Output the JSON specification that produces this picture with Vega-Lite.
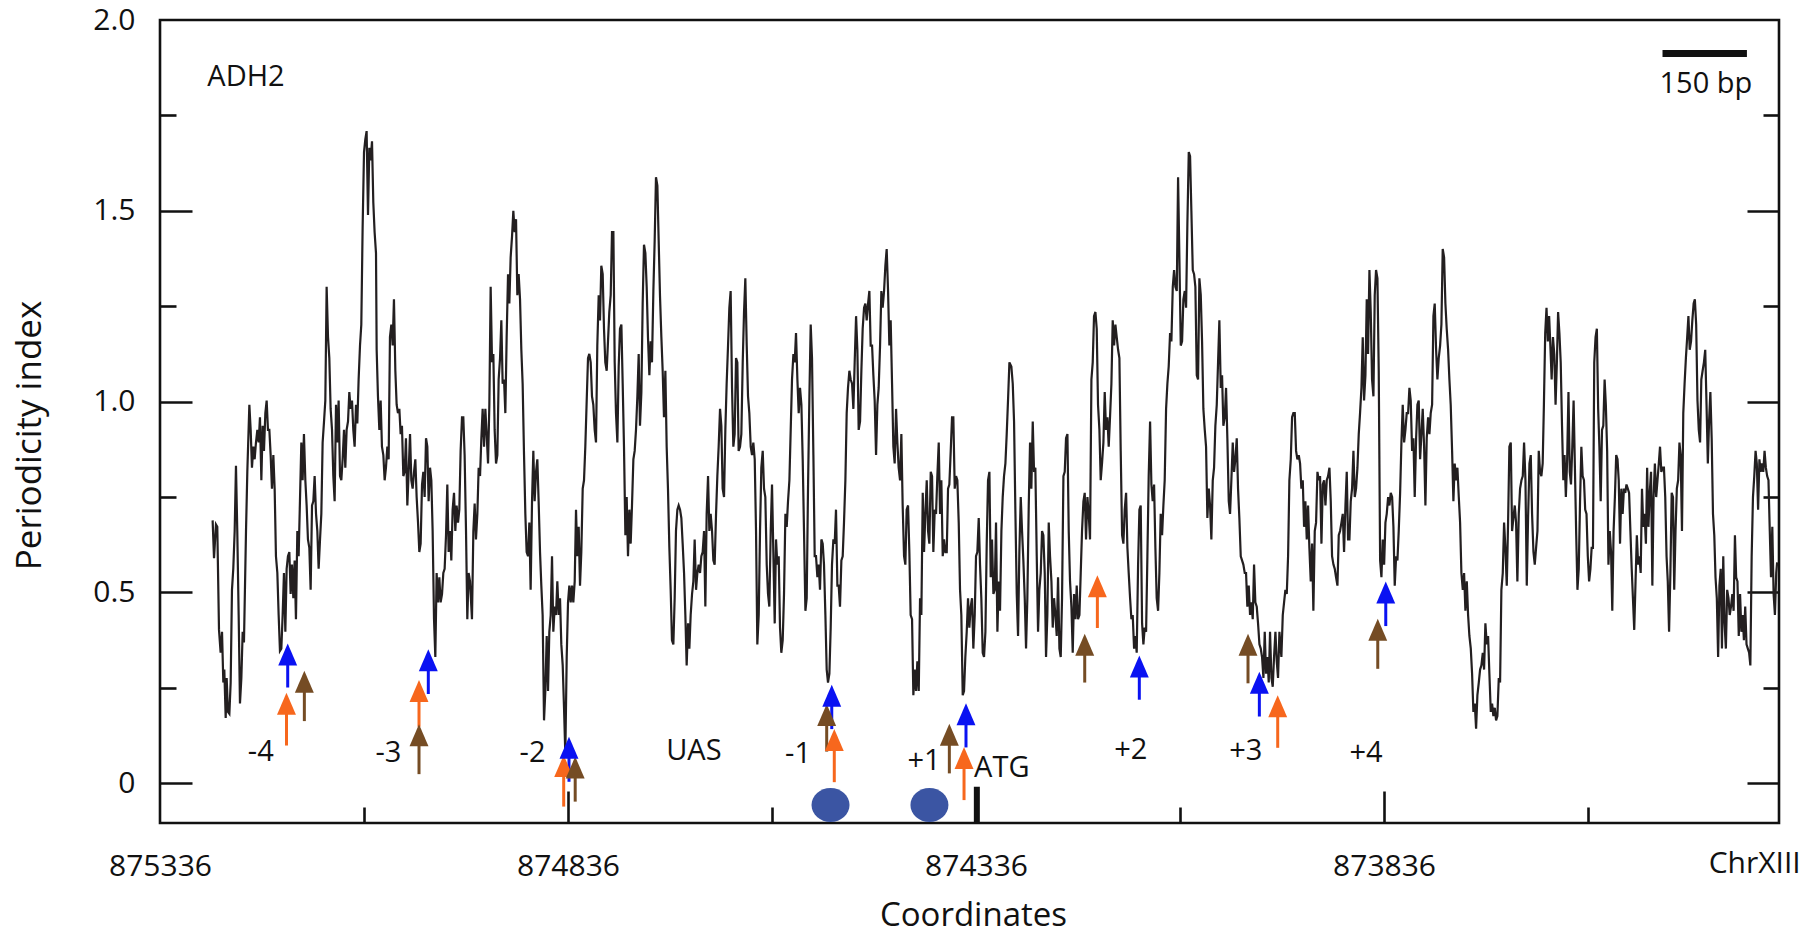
{
  "$schema": "https://vega.github.io/schema/vega-lite/v6.json",
  "width": 1619,
  "height": 803,
  "autosize": {"type": "none"},
  "padding": {"left": 160, "top": 20, "right": 33, "bottom": 111},
  "background": "white",
  "config": {
    "view": {"stroke": "#111111", "strokeWidth": 2.6},
    "font": "Open Sans",
    "axis": {
      "grid": false,
      "domain": false,
      "labelFont": "Open Sans",
      "labelFontSize": 30,
      "labelColor": "#111111",
      "tickColor": "#111111",
      "tickWidth": 2.6,
      "titleFont": "Open Sans",
      "titleFontSize": 33,
      "titleFontWeight": "normal",
      "titleColor": "#111111"
    },
    "text": {"font": "Open Sans", "fontSize": 29, "color": "#111111"}
  },
  "resolve": {"scale": {"x": "independent", "y": "shared"}, "axis": {"y": "independent"}},
  "datasets": {
    "profile": [
      {"coord":875271.5,"value":0.689},{"coord":875269.8,"value":0.590},{"coord":875267.4,"value":0.678},{"coord":875265.8,"value":0.672},{"coord":875263.7,"value":0.402},{"coord":875261.7,"value":0.342},{"coord":875260.0,"value":0.397},{"coord":875258.4,"value":0.264},{"coord":875257.2,"value":0.298},{"coord":875255.5,"value":0.171},{"coord":875254.3,"value":0.276},{"coord":875252.7,"value":0.187},{"coord":875251.0,"value":0.182},{"coord":875249.4,"value":0.264},{"coord":875247.8,"value":0.507},{"coord":875246.2,"value":0.562},{"coord":875244.5,"value":0.661},{"coord":875242.9,"value":0.832},{"coord":875241.3,"value":0.661},{"coord":875239.6,"value":0.441},{"coord":875238.0,"value":0.209},{"coord":875236.3,"value":0.276},{"coord":875234.7,"value":0.397},{"coord":875233.1,"value":0.369},{"coord":875230.6,"value":0.661},{"coord":875229.0,"value":0.816},{"coord":875226.5,"value":0.992},{"coord":875224.9,"value":0.926},{"coord":875223.3,"value":0.827},{"coord":875221.6,"value":0.882},{"coord":875220.0,"value":0.849},{"coord":875218.4,"value":0.893},{"coord":875216.7,"value":0.926},{"coord":875215.1,"value":0.893},{"coord":875213.5,"value":0.959},{"coord":875211.8,"value":0.794},{"coord":875210.2,"value":0.937},{"coord":875208.6,"value":0.871},{"coord":875206.9,"value":0.970},{"coord":875205.3,"value":1.003},{"coord":875203.7,"value":0.926},{"coord":875202.0,"value":0.926},{"coord":875200.4,"value":0.860},{"coord":875198.8,"value":0.772},{"coord":875197.1,"value":0.860},{"coord":875195.5,"value":0.772},{"coord":875193.9,"value":0.595},{"coord":875192.2,"value":0.551},{"coord":875190.6,"value":0.441},{"coord":875189.0,"value":0.347},{"coord":875187.3,"value":0.353},{"coord":875185.7,"value":0.441},{"coord":875184.1,"value":0.551},{"coord":875182.4,"value":0.397},{"coord":875180.8,"value":0.562},{"coord":875179.2,"value":0.595},{"coord":875177.5,"value":0.606},{"coord":875175.9,"value":0.496},{"coord":875174.3,"value":0.573},{"coord":875172.6,"value":0.485},{"coord":875171.0,"value":0.584},{"coord":875169.4,"value":0.430},{"coord":875167.7,"value":0.661},{"coord":875166.1,"value":0.595},{"coord":875164.5,"value":0.739},{"coord":875162.8,"value":0.893},{"coord":875161.2,"value":0.794},{"coord":875159.6,"value":0.915},{"coord":875157.9,"value":0.794},{"coord":875156.3,"value":0.728},{"coord":875154.7,"value":0.639},{"coord":875153.0,"value":0.617},{"coord":875151.4,"value":0.507},{"coord":875149.7,"value":0.728},{"coord":875148.1,"value":0.739},{"coord":875146.5,"value":0.805},{"coord":875144.8,"value":0.706},{"coord":875143.2,"value":0.661},{"coord":875141.6,"value":0.562},{"coord":875139.9,"value":0.639},{"coord":875138.3,"value":0.706},{"coord":875136.7,"value":0.893},{"coord":875135.0,"value":0.948},{"coord":875133.4,"value":1.003},{"coord":875131.8,"value":1.301},{"coord":875130.1,"value":1.169},{"coord":875128.5,"value":1.114},{"coord":875126.9,"value":0.981},{"coord":875125.2,"value":0.926},{"coord":875123.6,"value":0.805},{"coord":875122.0,"value":0.739},{"coord":875120.3,"value":0.992},{"coord":875118.7,"value":0.893},{"coord":875117.1,"value":1.003},{"coord":875115.4,"value":0.805},{"coord":875113.8,"value":0.794},{"coord":875112.2,"value":0.849},{"coord":875110.5,"value":0.926},{"coord":875108.9,"value":0.827},{"coord":875107.3,"value":0.926},{"coord":875105.6,"value":0.948},{"coord":875104.0,"value":1.025},{"coord":875102.4,"value":0.981},{"coord":875100.7,"value":1.003},{"coord":875099.1,"value":0.926},{"coord":875097.5,"value":0.882},{"coord":875095.8,"value":0.992},{"coord":875094.2,"value":0.943},{"coord":875092.6,"value":1.058},{"coord":875090.9,"value":1.147},{"coord":875089.3,"value":1.202},{"coord":875087.7,"value":1.455},{"coord":875086.0,"value":1.654},{"coord":875084.4,"value":1.687},{"coord":875082.8,"value":1.709},{"coord":875081.1,"value":1.489},{"coord":875079.5,"value":1.665},{"coord":875077.9,"value":1.632},{"coord":875076.2,"value":1.682},{"coord":875074.6,"value":1.522},{"coord":875073.0,"value":1.444},{"coord":875071.3,"value":1.389},{"coord":875070.5,"value":1.136},{"coord":875068.9,"value":1.014},{"coord":875067.2,"value":0.926},{"coord":875065.6,"value":1.003},{"coord":875064.0,"value":0.882},{"coord":875062.3,"value":0.860},{"coord":875060.7,"value":0.794},{"coord":875059.1,"value":0.827},{"coord":875057.4,"value":0.882},{"coord":875055.8,"value":0.849},{"coord":875054.2,"value":1.169},{"coord":875052.5,"value":1.202},{"coord":875050.9,"value":1.147},{"coord":875049.3,"value":1.268},{"coord":875047.6,"value":1.081},{"coord":875046.0,"value":0.992},{"coord":875044.4,"value":0.970},{"coord":875042.7,"value":0.981},{"coord":875041.1,"value":0.915},{"coord":875039.5,"value":0.937},{"coord":875037.8,"value":0.805},{"coord":875036.2,"value":0.816},{"coord":875034.6,"value":0.904},{"coord":875032.9,"value":0.728},{"coord":875031.3,"value":0.816},{"coord":875029.6,"value":0.915},{"coord":875028.0,"value":0.794},{"coord":875026.4,"value":0.772},{"coord":875024.7,"value":0.816},{"coord":875023.1,"value":0.849},{"coord":875021.5,"value":0.750},{"coord":875019.8,"value":0.683},{"coord":875018.2,"value":0.606},{"coord":875016.6,"value":0.628},{"coord":875014.9,"value":0.783},{"coord":875013.3,"value":0.816},{"coord":875011.7,"value":0.750},{"coord":875010.0,"value":0.904},{"coord":875008.4,"value":0.882},{"coord":875006.8,"value":0.739},{"coord":875005.1,"value":0.827},{"coord":875003.5,"value":0.794},{"coord":875001.9,"value":0.661},{"coord":875000.2,"value":0.430},{"coord":874998.6,"value":0.331},{"coord":874997.0,"value":0.551},{"coord":874995.3,"value":0.474},{"coord":874993.7,"value":0.540},{"coord":874992.1,"value":0.474},{"coord":874990.4,"value":0.496},{"coord":874988.8,"value":0.551},{"coord":874987.2,"value":0.562},{"coord":874985.5,"value":0.650},{"coord":874983.9,"value":0.783},{"coord":874982.3,"value":0.606},{"coord":874980.6,"value":0.661},{"coord":874979.0,"value":0.584},{"coord":874977.4,"value":0.717},{"coord":874975.7,"value":0.761},{"coord":874974.1,"value":0.661},{"coord":874972.5,"value":0.728},{"coord":874970.8,"value":0.683},{"coord":874969.2,"value":0.717},{"coord":874967.6,"value":0.871},{"coord":874965.9,"value":0.959},{"coord":874964.3,"value":0.959},{"coord":874962.7,"value":0.860},{"coord":874961.0,"value":0.661},{"coord":874959.4,"value":0.430},{"coord":874957.8,"value":0.551},{"coord":874956.1,"value":0.529},
      {"coord":874953.7,"value":0.430},{"coord":874952.0,"value":0.661},{"coord":874950.4,"value":0.733},{"coord":874948.8,"value":0.639},{"coord":874947.1,"value":0.706},{"coord":874945.5,"value":0.827},{"coord":874943.8,"value":0.805},{"coord":874942.2,"value":0.904},{"coord":874940.6,"value":0.981},{"coord":874938.9,"value":0.882},{"coord":874937.3,"value":0.981},{"coord":874935.7,"value":0.915},{"coord":874934.0,"value":0.838},{"coord":874932.4,"value":0.992},{"coord":874930.8,"value":1.301},{"coord":874929.1,"value":1.103},{"coord":874927.5,"value":1.125},{"coord":874925.9,"value":0.926},{"coord":874924.2,"value":0.838},{"coord":874922.6,"value":0.860},{"coord":874921.0,"value":1.058},{"coord":874919.3,"value":1.114},{"coord":874917.7,"value":1.213},{"coord":874916.1,"value":1.047},{"coord":874914.4,"value":1.058},{"coord":874912.8,"value":0.970},{"coord":874911.2,"value":1.169},{"coord":874909.5,"value":1.334},{"coord":874907.9,"value":1.257},{"coord":874906.3,"value":1.378},{"coord":874904.6,"value":1.433},{"coord":874903.0,"value":1.500},{"coord":874901.4,"value":1.444},{"coord":874899.7,"value":1.478},{"coord":874898.1,"value":1.279},{"coord":874896.5,"value":1.334},{"coord":874894.8,"value":1.268},{"coord":874893.2,"value":1.136},{"coord":874891.6,"value":1.047},{"coord":874889.9,"value":0.860},{"coord":874888.3,"value":0.706},{"coord":874886.7,"value":0.606},{"coord":874885.0,"value":0.595},{"coord":874883.4,"value":0.683},{"coord":874881.8,"value":0.507},{"coord":874880.1,"value":0.739},{"coord":874878.5,"value":0.871},{"coord":874876.9,"value":0.739},{"coord":874875.2,"value":0.816},{"coord":874873.6,"value":0.849},{"coord":874872.0,"value":0.739},{"coord":874870.3,"value":0.606},{"coord":874868.7,"value":0.518},{"coord":874867.1,"value":0.441},{"coord":874865.4,"value":0.165},{"coord":874863.8,"value":0.242},{"coord":874862.1,"value":0.386},{"coord":874860.5,"value":0.242},{"coord":874858.9,"value":0.397},{"coord":874857.2,"value":0.441},{"coord":874855.6,"value":0.595},{"coord":874854.0,"value":0.397},{"coord":874852.3,"value":0.463},{"coord":874850.7,"value":0.441},{"coord":874849.1,"value":0.529},{"coord":874847.4,"value":0.441},{"coord":874845.8,"value":0.485},{"coord":874844.2,"value":0.364},{"coord":874842.5,"value":0.309},{"coord":874840.9,"value":0.198},{"coord":874839.3,"value":0.077},{"coord":874837.6,"value":0.331},{"coord":874836.0,"value":0.474},{"coord":874834.4,"value":0.518},{"coord":874832.7,"value":0.474},{"coord":874831.1,"value":0.518},{"coord":874829.5,"value":0.474},{"coord":874827.8,"value":0.529},{"coord":874826.2,"value":0.717},{"coord":874824.6,"value":0.595},{"coord":874822.9,"value":0.672},{"coord":874821.3,"value":0.518},{"coord":874819.7,"value":0.606},{"coord":874818.0,"value":0.772},{"coord":874816.4,"value":0.794},{"coord":874814.8,"value":0.882},{"coord":874813.1,"value":1.003},{"coord":874811.5,"value":1.114},{"coord":874809.9,"value":1.125},{"coord":874808.2,"value":1.103},{"coord":874806.6,"value":1.014},{"coord":874805.0,"value":0.992},{"coord":874803.3,"value":0.926},{"coord":874801.7,"value":0.893},{"coord":874800.1,"value":1.147},{"coord":874798.4,"value":1.279},{"coord":874796.8,"value":1.213},{"coord":874795.2,"value":1.356},{"coord":874793.5,"value":1.334},{"coord":874791.9,"value":1.191},{"coord":874790.3,"value":1.103},{"coord":874788.6,"value":1.081},{"coord":874787.0,"value":1.158},{"coord":874785.4,"value":1.235},{"coord":874783.7,"value":1.279},{"coord":874782.1,"value":1.444},{"coord":874780.4,"value":1.444},{"coord":874778.8,"value":1.103},{"coord":874777.2,"value":0.970},{"coord":874775.5,"value":0.893},{"coord":874773.9,"value":1.092},{"coord":874772.3,"value":1.191},{"coord":874770.6,"value":1.202},{"coord":874769.0,"value":1.047},{"coord":874767.4,"value":0.882},{"coord":874765.7,"value":0.650},{"coord":874764.1,"value":0.750},{"coord":874762.5,"value":0.595},{"coord":874760.8,"value":0.717},{"coord":874759.2,"value":0.628},{"coord":874757.6,"value":0.728},{"coord":874755.9,"value":0.849},{"coord":874754.3,"value":0.871},{"coord":874752.7,"value":0.926},{"coord":874751.0,"value":1.014},{"coord":874749.4,"value":1.125},{"coord":874747.8,"value":0.937},{"coord":874746.1,"value":1.025},{"coord":874744.5,"value":1.257},{"coord":874742.9,"value":1.411},{"coord":874741.2,"value":1.389},{"coord":874739.6,"value":1.301},{"coord":874738.0,"value":1.169},{"coord":874736.3,"value":1.069},{"coord":874734.7,"value":1.158},{"coord":874733.1,"value":1.103},{"coord":874731.4,"value":1.290},{"coord":874729.8,"value":1.422},{"coord":874728.2,"value":1.588},{"coord":874726.5,"value":1.566},{"coord":874724.9,"value":1.422},{"coord":874723.3,"value":1.279},{"coord":874721.6,"value":1.169},{"coord":874720.0,"value":1.081},{"coord":874718.4,"value":0.959},{"coord":874716.7,"value":1.081},{"coord":874715.1,"value":0.882},{"coord":874713.5,"value":0.772},{"coord":874711.8,"value":0.617},{"coord":874710.2,"value":0.507},{"coord":874708.6,"value":0.375},{"coord":874706.9,"value":0.364},{"coord":874705.3,"value":0.485},{"coord":874703.7,"value":0.661},{"coord":874702.0,"value":0.717},{"coord":874700.4,"value":0.728},{"coord":874698.7,"value":0.717},{"coord":874697.1,"value":0.695},{"coord":874695.5,"value":0.628},{"coord":874693.8,"value":0.551},{"coord":874692.2,"value":0.441},{"coord":874690.6,"value":0.309},{"coord":874688.9,"value":0.419},{"coord":874687.3,"value":0.353},{"coord":874685.7,"value":0.441},{"coord":874684.0,"value":0.496},{"coord":874682.4,"value":0.529},{"coord":874680.8,"value":0.639},{"coord":874679.1,"value":0.507},{"coord":874677.5,"value":0.551},{"coord":874675.9,"value":0.573},{"coord":874674.2,"value":0.551},{"coord":874672.6,"value":0.595},{"coord":874671.0,"value":0.606},{"coord":874669.3,"value":0.661},{"coord":874667.7,"value":0.463},{"coord":874666.1,"value":0.706},{"coord":874664.4,"value":0.805},{"coord":874662.8,"value":0.661},{"coord":874661.2,"value":0.706},{"coord":874659.5,"value":0.661},{"coord":874657.9,"value":0.584},{"coord":874656.3,"value":0.573},{"coord":874654.6,"value":0.706},{"coord":874653.0,"value":0.805},{"coord":874651.4,"value":0.882},{"coord":874649.7,"value":0.981},{"coord":874648.1,"value":0.937},{"coord":874646.5,"value":0.772},{"coord":874644.8,"value":0.750},{"coord":874643.2,"value":0.926},{"coord":874641.6,"value":1.047},{"coord":874639.9,"value":1.147},{"coord":874638.3,"value":1.246},{"coord":874636.7,"value":1.290},{"coord":874635.0,"value":1.036},{"coord":874633.4,"value":0.882},{"coord":874631.8,"value":0.915},{"coord":874630.1,"value":1.114},{"coord":874628.5,"value":1.103},{"coord":874626.9,"value":0.871},
      {"coord":874625.2,"value":0.882},{"coord":874623.6,"value":0.915},{"coord":874621.9,"value":1.103},{"coord":874620.3,"value":1.235},{"coord":874618.7,"value":1.323},{"coord":874617.0,"value":1.147},{"coord":874615.4,"value":1.014},{"coord":874613.8,"value":0.970},{"coord":874612.1,"value":0.882},{"coord":874610.5,"value":0.860},{"coord":874608.9,"value":0.893},{"coord":874607.2,"value":0.849},{"coord":874605.6,"value":0.661},{"coord":874604.0,"value":0.364},{"coord":874602.3,"value":0.441},{"coord":874600.7,"value":0.661},{"coord":874599.1,"value":0.827},{"coord":874597.4,"value":0.871},{"coord":874595.8,"value":0.772},{"coord":874594.2,"value":0.750},{"coord":874592.5,"value":0.573},{"coord":874590.9,"value":0.496},{"coord":874589.3,"value":0.463},{"coord":874587.6,"value":0.661},{"coord":874586.0,"value":0.783},{"coord":874584.4,"value":0.606},{"coord":874582.7,"value":0.419},{"coord":874581.1,"value":0.639},{"coord":874579.5,"value":0.573},{"coord":874577.8,"value":0.595},{"coord":874576.2,"value":0.408},{"coord":874574.6,"value":0.342},{"coord":874572.9,"value":0.375},{"coord":874571.3,"value":0.496},{"coord":874569.6,"value":0.706},{"coord":874568.0,"value":0.672},{"coord":874566.4,"value":0.739},{"coord":874564.7,"value":0.794},{"coord":874563.1,"value":0.926},{"coord":874561.5,"value":1.058},{"coord":874559.8,"value":1.125},{"coord":874558.2,"value":1.103},{"coord":874556.6,"value":1.180},{"coord":874554.9,"value":1.058},{"coord":874553.3,"value":0.970},{"coord":874551.7,"value":1.036},{"coord":874550.0,"value":0.992},{"coord":874548.4,"value":0.849},{"coord":874546.8,"value":0.661},{"coord":874545.1,"value":0.452},{"coord":874543.5,"value":0.485},{"coord":874541.9,"value":0.772},{"coord":874540.2,"value":1.014},{"coord":874538.6,"value":1.202},{"coord":874537.0,"value":1.114},{"coord":874535.3,"value":0.860},{"coord":874533.7,"value":0.595},{"coord":874532.1,"value":0.595},{"coord":874530.4,"value":0.540},{"coord":874528.8,"value":0.573},{"coord":874527.2,"value":0.507},{"coord":874525.5,"value":0.639},{"coord":874523.9,"value":0.628},{"coord":874522.3,"value":0.573},{"coord":874520.6,"value":0.441},{"coord":874519.0,"value":0.298},{"coord":874517.4,"value":0.264},{"coord":874515.7,"value":0.287},{"coord":874514.1,"value":0.408},{"coord":874512.5,"value":0.573},{"coord":874510.8,"value":0.639},{"coord":874509.2,"value":0.628},{"coord":874507.6,"value":0.717},{"coord":874505.9,"value":0.518},{"coord":874504.3,"value":0.518},{"coord":874502.7,"value":0.463},{"coord":874501.0,"value":0.584},{"coord":874499.4,"value":0.595},{"coord":874497.8,"value":0.683},{"coord":874496.1,"value":0.794},{"coord":874494.5,"value":0.970},{"coord":874492.9,"value":1.036},{"coord":874491.2,"value":1.081},{"coord":874489.6,"value":1.058},{"coord":874487.9,"value":1.047},{"coord":874486.3,"value":0.981},{"coord":874484.7,"value":1.103},{"coord":874483.0,"value":1.224},{"coord":874481.4,"value":1.136},{"coord":874479.8,"value":0.926},{"coord":874478.1,"value":0.948},{"coord":874476.5,"value":1.081},{"coord":874474.9,"value":1.191},{"coord":874473.2,"value":1.246},{"coord":874471.6,"value":1.257},{"coord":874470.0,"value":1.213},{"coord":874468.3,"value":1.257},{"coord":874466.7,"value":1.290},{"coord":874465.1,"value":1.147},{"coord":874463.4,"value":1.147},{"coord":874461.8,"value":1.069},{"coord":874460.2,"value":1.003},{"coord":874458.5,"value":0.860},{"coord":874456.9,"value":0.992},{"coord":874455.3,"value":1.036},{"coord":874453.6,"value":1.147},{"coord":874452.0,"value":1.290},{"coord":874450.4,"value":1.246},{"coord":874448.7,"value":1.290},{"coord":874447.1,"value":1.356},{"coord":874445.5,"value":1.400},{"coord":874443.8,"value":1.290},{"coord":874442.2,"value":1.147},{"coord":874440.6,"value":1.213},{"coord":874438.9,"value":1.047},{"coord":874437.3,"value":0.882},{"coord":874435.7,"value":0.838},{"coord":874434.0,"value":0.981},{"coord":874432.4,"value":0.893},{"coord":874430.8,"value":0.827},{"coord":874429.1,"value":0.794},{"coord":874427.5,"value":0.915},{"coord":874425.9,"value":0.728},{"coord":874424.2,"value":0.595},{"coord":874422.6,"value":0.573},{"coord":874421.0,"value":0.717},{"coord":874419.3,"value":0.728},{"coord":874417.7,"value":0.606},{"coord":874416.1,"value":0.441},{"coord":874414.4,"value":0.430},{"coord":874412.8,"value":0.231},{"coord":874411.2,"value":0.298},{"coord":874409.5,"value":0.242},{"coord":874407.9,"value":0.320},{"coord":874406.2,"value":0.242},{"coord":874404.6,"value":0.485},{"coord":874403.0,"value":0.441},{"coord":874401.3,"value":0.761},{"coord":874399.7,"value":0.606},{"coord":874398.1,"value":0.706},{"coord":874396.4,"value":0.794},{"coord":874394.8,"value":0.661},{"coord":874393.2,"value":0.628},{"coord":874391.5,"value":0.816},{"coord":874389.9,"value":0.805},{"coord":874388.3,"value":0.606},{"coord":874386.6,"value":0.717},{"coord":874385.0,"value":0.706},{"coord":874383.4,"value":0.805},{"coord":874381.7,"value":0.893},{"coord":874380.1,"value":0.706},{"coord":874378.5,"value":0.794},{"coord":874376.8,"value":0.595},{"coord":874375.2,"value":0.639},{"coord":874373.6,"value":0.606},{"coord":874371.9,"value":0.606},{"coord":874370.3,"value":0.772},{"coord":874368.7,"value":0.783},{"coord":874367.0,"value":0.871},{"coord":874365.4,"value":0.959},{"coord":874363.8,"value":0.959},{"coord":874362.1,"value":0.772},{"coord":874360.5,"value":0.805},{"coord":874358.9,"value":0.794},{"coord":874357.2,"value":0.683},{"coord":874355.6,"value":0.507},{"coord":874354.0,"value":0.441},{"coord":874352.3,"value":0.231},{"coord":874350.7,"value":0.242},{"coord":874349.1,"value":0.331},{"coord":874347.4,"value":0.397},{"coord":874345.8,"value":0.485},{"coord":874344.2,"value":0.408},{"coord":874342.5,"value":0.463},{"coord":874340.9,"value":0.485},{"coord":874339.3,"value":0.353},{"coord":874337.6,"value":0.441},{"coord":874336.0,"value":0.595},{"coord":874334.4,"value":0.606},{"coord":874332.7,"value":0.695},{"coord":874331.1,"value":0.573},{"coord":874329.5,"value":0.485},{"coord":874327.8,"value":0.342},{"coord":874326.2,"value":0.331},{"coord":874324.5,"value":0.397},{"coord":874322.9,"value":0.628},{"coord":874321.3,"value":0.794},{"coord":874319.6,"value":0.816},{"coord":874318.0,"value":0.540},{"coord":874316.4,"value":0.639},{"coord":874314.7,"value":0.496},{"coord":874313.1,"value":0.507},{"coord":874311.5,"value":0.683},{"coord":874309.8,"value":0.397},{"coord":874308.2,"value":0.529},{"coord":874306.6,"value":0.452},{"coord":874304.9,"value":0.661},{"coord":874303.3,"value":0.750},{"coord":874301.7,"value":0.805},{"coord":874300.0,"value":0.838},{"coord":874298.4,"value":0.915},{"coord":874296.8,"value":1.003},{"coord":874295.1,"value":1.103},
      {"coord":874292.7,"value":1.092},{"coord":874291.0,"value":1.047},{"coord":874289.4,"value":0.948},{"coord":874287.8,"value":0.717},{"coord":874286.1,"value":0.496},{"coord":874284.5,"value":0.386},{"coord":874282.9,"value":0.606},{"coord":874281.2,"value":0.750},{"coord":874279.6,"value":0.661},{"coord":874278.0,"value":0.584},{"coord":874276.3,"value":0.485},{"coord":874274.7,"value":0.353},{"coord":874273.1,"value":0.485},{"coord":874271.4,"value":0.728},{"coord":874269.8,"value":0.893},{"coord":874268.2,"value":0.772},{"coord":874266.5,"value":0.948},{"coord":874264.9,"value":0.816},{"coord":874263.3,"value":0.827},{"coord":874261.6,"value":0.595},{"coord":874260.0,"value":0.397},{"coord":874258.4,"value":0.507},{"coord":874256.7,"value":0.551},{"coord":874255.1,"value":0.661},{"coord":874253.5,"value":0.650},{"coord":874251.8,"value":0.551},{"coord":874250.2,"value":0.331},{"coord":874248.6,"value":0.441},{"coord":874246.9,"value":0.683},{"coord":874245.3,"value":0.595},{"coord":874243.6,"value":0.529},{"coord":874242.0,"value":0.408},{"coord":874240.4,"value":0.485},{"coord":874238.7,"value":0.441},{"coord":874237.1,"value":0.386},{"coord":874235.5,"value":0.540},{"coord":874233.8,"value":0.353},{"coord":874232.2,"value":0.331},{"coord":874230.6,"value":0.485},{"coord":874228.9,"value":0.805},{"coord":874227.3,"value":0.816},{"coord":874225.7,"value":0.904},{"coord":874224.0,"value":0.915},{"coord":874222.4,"value":0.661},{"coord":874220.8,"value":0.529},{"coord":874219.1,"value":0.463},{"coord":874217.5,"value":0.342},{"coord":874215.9,"value":0.496},{"coord":874214.2,"value":0.430},{"coord":874212.6,"value":0.518},{"coord":874211.0,"value":0.430},{"coord":874209.3,"value":0.441},{"coord":874207.7,"value":0.551},{"coord":874206.1,"value":0.661},{"coord":874204.4,"value":0.739},{"coord":874202.8,"value":0.761},{"coord":874201.2,"value":0.639},{"coord":874199.5,"value":0.750},{"coord":874197.9,"value":0.706},{"coord":874196.3,"value":0.639},{"coord":874194.6,"value":1.058},{"coord":874193.0,"value":1.103},{"coord":874191.4,"value":1.224},{"coord":874189.7,"value":1.235},{"coord":874188.1,"value":1.191},{"coord":874186.5,"value":0.992},{"coord":874184.8,"value":0.926},{"coord":874183.2,"value":0.794},{"coord":874181.6,"value":0.838},{"coord":874179.9,"value":0.893},{"coord":874178.3,"value":1.025},{"coord":874176.7,"value":0.926},{"coord":874175.0,"value":0.959},{"coord":874173.4,"value":0.882},{"coord":874171.8,"value":0.959},{"coord":874170.1,"value":1.047},{"coord":874168.5,"value":1.213},{"coord":874166.8,"value":1.147},{"coord":874165.2,"value":1.202},{"coord":874163.6,"value":1.169},{"coord":874161.9,"value":1.136},{"coord":874160.3,"value":1.114},{"coord":874158.7,"value":0.871},{"coord":874157.0,"value":0.650},{"coord":874155.4,"value":0.628},{"coord":874153.8,"value":0.717},{"coord":874152.1,"value":0.761},{"coord":874150.5,"value":0.617},{"coord":874148.9,"value":0.551},{"coord":874147.2,"value":0.485},{"coord":874145.6,"value":0.430},{"coord":874144.0,"value":0.441},{"coord":874142.3,"value":0.353},{"coord":874140.7,"value":0.386},{"coord":874139.1,"value":0.342},{"coord":874137.4,"value":0.573},{"coord":874135.8,"value":0.717},{"coord":874134.2,"value":0.728},{"coord":874132.5,"value":0.419},{"coord":874130.9,"value":0.364},{"coord":874129.3,"value":0.408},{"coord":874127.6,"value":0.397},{"coord":874126.0,"value":0.595},{"coord":874124.4,"value":0.805},{"coord":874122.7,"value":0.948},{"coord":874121.1,"value":0.783},{"coord":874119.5,"value":0.739},{"coord":874117.8,"value":0.783},{"coord":874116.2,"value":0.617},{"coord":874114.6,"value":0.485},{"coord":874112.9,"value":0.452},{"coord":874111.3,"value":0.551},{"coord":874109.7,"value":0.706},{"coord":874108.0,"value":0.650},{"coord":874106.4,"value":0.728},{"coord":874104.8,"value":0.794},{"coord":874103.1,"value":0.981},{"coord":874101.5,"value":1.047},{"coord":874099.9,"value":1.092},{"coord":874098.2,"value":1.180},{"coord":874096.6,"value":1.158},{"coord":874094.9,"value":1.301},{"coord":874093.3,"value":1.345},{"coord":874091.7,"value":1.301},{"coord":874090.0,"value":1.290},{"coord":874088.4,"value":1.588},{"coord":874086.8,"value":1.378},{"coord":874085.1,"value":1.147},{"coord":874083.5,"value":1.158},{"coord":874081.9,"value":1.268},{"coord":874080.2,"value":1.290},{"coord":874078.6,"value":1.246},{"coord":874077.0,"value":1.466},{"coord":874075.3,"value":1.654},{"coord":874073.7,"value":1.643},{"coord":874072.1,"value":1.500},{"coord":874070.4,"value":1.345},{"coord":874068.8,"value":1.334},{"coord":874067.2,"value":1.301},{"coord":874065.5,"value":1.069},{"coord":874063.9,"value":1.058},{"coord":874062.3,"value":1.323},{"coord":874060.6,"value":1.279},{"coord":874059.0,"value":1.158},{"coord":874057.4,"value":0.981},{"coord":874055.7,"value":0.926},{"coord":874054.1,"value":0.882},{"coord":874052.5,"value":0.695},{"coord":874050.8,"value":0.772},{"coord":874049.2,"value":0.728},{"coord":874047.6,"value":0.639},{"coord":874045.9,"value":0.794},{"coord":874044.3,"value":0.827},{"coord":874042.7,"value":0.937},{"coord":874041.0,"value":0.992},{"coord":874039.4,"value":1.103},{"coord":874037.8,"value":1.213},{"coord":874036.1,"value":1.036},{"coord":874034.5,"value":1.069},{"coord":874032.9,"value":0.937},{"coord":874031.2,"value":0.959},{"coord":874029.6,"value":1.036},{"coord":874028.0,"value":0.904},{"coord":874026.3,"value":0.739},{"coord":874024.7,"value":0.706},{"coord":874023.1,"value":0.794},{"coord":874021.4,"value":0.893},{"coord":874019.8,"value":0.816},{"coord":874018.2,"value":0.849},{"coord":874016.5,"value":0.904},{"coord":874014.9,"value":0.772},{"coord":874013.3,"value":0.695},{"coord":874011.6,"value":0.595},{"coord":874010.0,"value":0.584},{"coord":874008.4,"value":0.573},{"coord":874006.7,"value":0.551},{"coord":874005.1,"value":0.551},{"coord":874003.5,"value":0.463},{"coord":874001.8,"value":0.518},{"coord":874000.2,"value":0.441},{"coord":873998.6,"value":0.474},{"coord":873996.9,"value":0.430},{"coord":873995.3,"value":0.573},{"coord":873993.7,"value":0.474},{"coord":873992.0,"value":0.463},{"coord":873990.4,"value":0.419},{"coord":873988.7,"value":0.364},{"coord":873987.1,"value":0.353},{"coord":873985.5,"value":0.331},{"coord":873983.8,"value":0.276},{"coord":873982.2,"value":0.397},{"coord":873980.6,"value":0.287},{"coord":873978.9,"value":0.331},{"coord":873977.3,"value":0.264},{"coord":873975.7,"value":0.397},{"coord":873974.0,"value":0.276},{"coord":873972.4,"value":0.253},{"coord":873970.8,"value":0.331},{"coord":873969.1,"value":0.397},{"coord":873967.5,"value":0.320},{"coord":873965.9,"value":0.276},{"coord":873964.2,"value":0.397},
      {"coord":873961.8,"value":0.331},{"coord":873960.1,"value":0.441},{"coord":873958.5,"value":0.474},{"coord":873956.9,"value":0.507},{"coord":873955.2,"value":0.496},{"coord":873953.6,"value":0.595},{"coord":873952.0,"value":0.794},{"coord":873950.3,"value":0.849},{"coord":873948.7,"value":0.959},{"coord":873947.1,"value":0.970},{"coord":873945.4,"value":0.970},{"coord":873943.8,"value":0.871},{"coord":873942.2,"value":0.849},{"coord":873940.5,"value":0.860},{"coord":873938.9,"value":0.838},{"coord":873937.3,"value":0.772},{"coord":873935.6,"value":0.794},{"coord":873934.0,"value":0.672},{"coord":873932.4,"value":0.739},{"coord":873930.7,"value":0.639},{"coord":873929.1,"value":0.728},{"coord":873927.5,"value":0.617},{"coord":873925.8,"value":0.529},{"coord":873924.2,"value":0.628},{"coord":873922.6,"value":0.452},{"coord":873920.9,"value":0.661},{"coord":873919.3,"value":0.683},{"coord":873917.6,"value":0.816},{"coord":873916.0,"value":0.794},{"coord":873914.4,"value":0.805},{"coord":873912.7,"value":0.628},{"coord":873911.1,"value":0.783},{"coord":873909.5,"value":0.794},{"coord":873907.8,"value":0.728},{"coord":873906.2,"value":0.794},{"coord":873904.6,"value":0.805},{"coord":873902.9,"value":0.827},{"coord":873901.3,"value":0.739},{"coord":873899.7,"value":0.595},{"coord":873898.0,"value":0.573},{"coord":873896.4,"value":0.562},{"coord":873894.8,"value":0.540},{"coord":873893.1,"value":0.518},{"coord":873891.5,"value":0.650},{"coord":873889.9,"value":0.661},{"coord":873888.2,"value":0.683},{"coord":873886.6,"value":0.706},{"coord":873885.0,"value":0.606},{"coord":873883.3,"value":0.728},{"coord":873881.7,"value":0.816},{"coord":873880.1,"value":0.639},{"coord":873878.4,"value":0.639},{"coord":873876.8,"value":0.739},{"coord":873875.2,"value":0.772},{"coord":873873.5,"value":0.871},{"coord":873871.9,"value":0.750},{"coord":873870.3,"value":0.772},{"coord":873868.6,"value":0.827},{"coord":873867.0,"value":0.915},{"coord":873865.4,"value":0.970},{"coord":873863.7,"value":1.036},{"coord":873862.1,"value":1.169},{"coord":873860.5,"value":1.003},{"coord":873858.8,"value":1.069},{"coord":873857.2,"value":1.268},{"coord":873855.6,"value":1.125},{"coord":873853.9,"value":1.345},{"coord":873852.3,"value":1.235},{"coord":873850.7,"value":1.058},{"coord":873849.0,"value":1.014},{"coord":873847.4,"value":1.279},{"coord":873845.8,"value":1.345},{"coord":873844.1,"value":1.323},{"coord":873842.5,"value":1.081},{"coord":873840.8,"value":0.584},{"coord":873839.2,"value":0.540},{"coord":873837.6,"value":0.639},{"coord":873835.9,"value":0.573},{"coord":873834.3,"value":0.683},{"coord":873832.7,"value":0.706},{"coord":873831.0,"value":0.750},{"coord":873829.4,"value":0.728},{"coord":873827.8,"value":0.761},{"coord":873826.1,"value":0.750},{"coord":873824.5,"value":0.672},{"coord":873822.9,"value":0.518},{"coord":873821.2,"value":0.595},{"coord":873819.6,"value":0.584},{"coord":873818.0,"value":0.661},{"coord":873816.3,"value":0.761},{"coord":873814.7,"value":0.893},{"coord":873813.1,"value":0.992},{"coord":873811.4,"value":0.893},{"coord":873809.8,"value":0.926},{"coord":873808.2,"value":0.970},{"coord":873806.5,"value":0.970},{"coord":873804.9,"value":1.036},{"coord":873803.3,"value":1.003},{"coord":873801.6,"value":0.871},{"coord":873800.0,"value":0.904},{"coord":873798.4,"value":0.750},{"coord":873796.7,"value":0.904},{"coord":873795.1,"value":0.992},{"coord":873793.5,"value":1.003},{"coord":873791.8,"value":0.849},{"coord":873790.2,"value":0.915},{"coord":873788.6,"value":0.981},{"coord":873786.9,"value":0.882},{"coord":873785.3,"value":0.728},{"coord":873783.7,"value":0.904},{"coord":873782.0,"value":0.959},{"coord":873780.4,"value":0.915},{"coord":873778.8,"value":0.970},{"coord":873777.1,"value":0.992},{"coord":873775.5,"value":1.224},{"coord":873773.9,"value":1.257},{"coord":873772.2,"value":1.136},{"coord":873770.6,"value":1.058},{"coord":873769.0,"value":1.114},{"coord":873767.3,"value":1.147},{"coord":873765.7,"value":1.202},{"coord":873764.1,"value":1.400},{"coord":873762.4,"value":1.378},{"coord":873760.8,"value":1.257},{"coord":873759.2,"value":1.191},{"coord":873757.5,"value":1.136},{"coord":873755.9,"value":1.058},{"coord":873754.3,"value":0.992},{"coord":873752.6,"value":0.871},{"coord":873751.0,"value":0.739},{"coord":873749.4,"value":0.838},{"coord":873747.7,"value":0.794},{"coord":873746.1,"value":0.827},{"coord":873744.4,"value":0.750},{"coord":873742.8,"value":0.683},{"coord":873741.2,"value":0.551},{"coord":873739.5,"value":0.507},{"coord":873737.9,"value":0.551},{"coord":873736.3,"value":0.452},{"coord":873734.6,"value":0.529},{"coord":873733.0,"value":0.441},{"coord":873731.4,"value":0.386},{"coord":873729.7,"value":0.353},{"coord":873728.1,"value":0.287},{"coord":873726.5,"value":0.187},{"coord":873724.8,"value":0.209},{"coord":873723.2,"value":0.143},{"coord":873721.6,"value":0.231},{"coord":873719.9,"value":0.264},{"coord":873718.3,"value":0.298},{"coord":873716.7,"value":0.309},{"coord":873715.0,"value":0.342},{"coord":873713.4,"value":0.298},{"coord":873711.8,"value":0.419},{"coord":873710.1,"value":0.364},{"coord":873708.5,"value":0.386},{"coord":873706.9,"value":0.287},{"coord":873705.2,"value":0.187},{"coord":873703.6,"value":0.209},{"coord":873702.0,"value":0.176},{"coord":873700.3,"value":0.198},{"coord":873698.7,"value":0.165},{"coord":873697.1,"value":0.176},{"coord":873695.4,"value":0.276},{"coord":873693.8,"value":0.264},{"coord":873692.2,"value":0.507},{"coord":873690.5,"value":0.551},{"coord":873688.9,"value":0.683},{"coord":873687.3,"value":0.617},{"coord":873685.6,"value":0.518},{"coord":873684.0,"value":0.683},{"coord":873682.4,"value":0.882},{"coord":873680.7,"value":0.893},{"coord":873679.1,"value":0.661},{"coord":873677.5,"value":0.695},{"coord":873675.8,"value":0.728},{"coord":873674.2,"value":0.683},{"coord":873672.6,"value":0.529},{"coord":873670.9,"value":0.706},{"coord":873669.3,"value":0.772},{"coord":873667.6,"value":0.794},{"coord":873666.0,"value":0.805},{"coord":873664.4,"value":0.893},{"coord":873662.7,"value":0.794},{"coord":873661.1,"value":0.518},{"coord":873659.5,"value":0.695},{"coord":873657.8,"value":0.838},{"coord":873656.2,"value":0.860},{"coord":873654.6,"value":0.706},{"coord":873652.9,"value":0.606},{"coord":873651.3,"value":0.573},{"coord":873649.7,"value":0.617},{"coord":873648.0,"value":0.661},{"coord":873646.4,"value":0.871},{"coord":873644.8,"value":0.816},
      {"coord":873643.2,"value":0.805},{"coord":873641.6,"value":0.838},{"coord":873640.1,"value":0.992},{"coord":873638.5,"value":1.180},{"coord":873636.9,"value":1.246},{"coord":873635.3,"value":1.158},{"coord":873633.7,"value":1.224},{"coord":873632.2,"value":1.147},{"coord":873630.6,"value":1.058},{"coord":873629.0,"value":1.169},{"coord":873627.4,"value":1.125},{"coord":873625.8,"value":0.992},{"coord":873624.2,"value":1.103},{"coord":873622.7,"value":1.235},{"coord":873621.1,"value":1.180},{"coord":873619.5,"value":1.103},{"coord":873617.9,"value":0.937},{"coord":873616.3,"value":0.794},{"coord":873614.8,"value":0.860},{"coord":873613.2,"value":0.750},{"coord":873611.6,"value":0.849},{"coord":873610.0,"value":1.025},{"coord":873608.4,"value":0.816},{"coord":873606.9,"value":0.783},{"coord":873605.3,"value":0.882},{"coord":873603.7,"value":1.003},{"coord":873602.1,"value":0.827},{"coord":873600.5,"value":0.650},{"coord":873599.0,"value":0.507},{"coord":873597.4,"value":0.562},{"coord":873595.8,"value":0.739},{"coord":873594.2,"value":0.882},{"coord":873592.6,"value":0.805},{"coord":873591.0,"value":0.794},{"coord":873589.5,"value":0.717},{"coord":873587.9,"value":0.706},{"coord":873586.3,"value":0.595},{"coord":873584.7,"value":0.529},{"coord":873583.1,"value":0.562},{"coord":873581.6,"value":0.617},{"coord":873580.0,"value":0.617},{"coord":873578.4,"value":1.103},{"coord":873576.8,"value":1.169},{"coord":873575.2,"value":1.191},{"coord":873573.6,"value":0.981},{"coord":873572.1,"value":0.882},{"coord":873570.5,"value":0.739},{"coord":873568.9,"value":0.926},{"coord":873567.3,"value":0.937},{"coord":873565.7,"value":1.058},{"coord":873564.2,"value":0.992},{"coord":873562.6,"value":0.871},{"coord":873561.0,"value":0.573},{"coord":873559.4,"value":0.661},{"coord":873557.8,"value":0.606},{"coord":873556.3,"value":0.452},{"coord":873554.7,"value":0.661},{"coord":873553.1,"value":0.750},{"coord":873551.5,"value":0.860},{"coord":873549.9,"value":0.849},{"coord":873548.4,"value":0.794},{"coord":873546.8,"value":0.628},{"coord":873545.2,"value":0.772},{"coord":873543.6,"value":0.706},{"coord":873542.0,"value":0.772},{"coord":873540.4,"value":0.761},{"coord":873538.9,"value":0.783},{"coord":873537.3,"value":0.772},{"coord":873535.7,"value":0.761},{"coord":873534.1,"value":0.661},{"coord":873532.5,"value":0.562},{"coord":873531.0,"value":0.485},{"coord":873529.4,"value":0.402},{"coord":873527.8,"value":0.529},{"coord":873526.2,"value":0.650},{"coord":873524.6,"value":0.573},{"coord":873523.1,"value":0.595},{"coord":873521.5,"value":0.551},{"coord":873519.9,"value":0.772},{"coord":873518.3,"value":0.672},{"coord":873516.7,"value":0.706},{"coord":873515.1,"value":0.628},{"coord":873513.6,"value":0.827},{"coord":873512.0,"value":0.672},{"coord":873510.4,"value":0.761},{"coord":873508.8,"value":0.816},{"coord":873507.2,"value":0.518},{"coord":873505.7,"value":0.750},{"coord":873504.1,"value":0.838},{"coord":873502.5,"value":0.750},{"coord":873500.9,"value":0.794},{"coord":873499.3,"value":0.838},{"coord":873497.8,"value":0.882},{"coord":873496.2,"value":0.816},{"coord":873494.6,"value":0.827},{"coord":873493.0,"value":0.827},{"coord":873491.4,"value":0.750},{"coord":873489.8,"value":0.595},{"coord":873488.3,"value":0.529},{"coord":873486.7,"value":0.397},{"coord":873485.1,"value":0.551},{"coord":873483.5,"value":0.761},{"coord":873481.9,"value":0.750},{"coord":873480.4,"value":0.507},{"coord":873478.8,"value":0.661},{"coord":873477.2,"value":0.772},{"coord":873475.6,"value":0.794},{"coord":873474.0,"value":0.893},{"coord":873472.5,"value":0.860},{"coord":873470.9,"value":0.661},{"coord":873469.3,"value":0.970},{"coord":873467.7,"value":1.047},{"coord":873466.1,"value":1.114},{"coord":873464.5,"value":1.169},{"coord":873463.0,"value":1.224},{"coord":873461.4,"value":1.136},{"coord":873459.8,"value":1.158},{"coord":873458.2,"value":1.213},{"coord":873456.6,"value":1.257},{"coord":873455.1,"value":1.268},{"coord":873453.5,"value":1.202},{"coord":873451.9,"value":1.003},{"coord":873450.3,"value":0.926},{"coord":873448.7,"value":0.893},{"coord":873447.2,"value":1.058},{"coord":873445.6,"value":1.081},{"coord":873444.0,"value":1.103},{"coord":873442.4,"value":1.136},{"coord":873440.8,"value":0.992},{"coord":873439.2,"value":0.838},{"coord":873437.7,"value":0.948},{"coord":873436.1,"value":1.025},{"coord":873434.5,"value":0.904},{"coord":873432.9,"value":0.706},{"coord":873431.3,"value":0.650},{"coord":873429.8,"value":0.540},{"coord":873428.2,"value":0.485},{"coord":873426.6,"value":0.331},{"coord":873425.0,"value":0.518},{"coord":873423.4,"value":0.562},{"coord":873421.9,"value":0.353},{"coord":873420.3,"value":0.595},{"coord":873418.7,"value":0.419},{"coord":873417.1,"value":0.353},{"coord":873415.5,"value":0.507},{"coord":873413.9,"value":0.485},{"coord":873412.4,"value":0.441},{"coord":873410.8,"value":0.463},{"coord":873409.2,"value":0.496},{"coord":873407.6,"value":0.452},{"coord":873406.0,"value":0.650},{"coord":873404.5,"value":0.540},{"coord":873402.9,"value":0.529},{"coord":873401.3,"value":0.386},{"coord":873399.7,"value":0.496},{"coord":873398.1,"value":0.397},{"coord":873396.5,"value":0.441},{"coord":873395.0,"value":0.375},{"coord":873393.4,"value":0.463},{"coord":873391.8,"value":0.364},{"coord":873390.2,"value":0.353},{"coord":873388.6,"value":0.342},{"coord":873387.1,"value":0.309},{"coord":873385.5,"value":0.595},{"coord":873383.9,"value":0.750},{"coord":873382.3,"value":0.805},{"coord":873380.7,"value":0.871},{"coord":873379.2,"value":0.838},{"coord":873377.6,"value":0.717},{"coord":873376.0,"value":0.849},{"coord":873374.4,"value":0.816},{"coord":873372.8,"value":0.838},{"coord":873371.3,"value":0.816},{"coord":873369.7,"value":0.871},{"coord":873368.1,"value":0.827},{"coord":873366.5,"value":0.805},{"coord":873364.9,"value":0.794},{"coord":873363.3,"value":0.661},{"coord":873361.8,"value":0.540},{"coord":873360.2,"value":0.672},{"coord":873358.6,"value":0.496},{"coord":873357.0,"value":0.441},{"coord":873355.4,"value":0.551},{"coord":873354.3,"value":0.579}
    ],
    "arrows": [
      {"coord":875181.0,"tail":0.099,"tip":0.237,"group":"orange"},
      {"coord":875159.1,"tail":0.163,"tip":0.295,"group":"brown"},
      {"coord":875179.5,"tail":0.251,"tip":0.366,"group":"blue"},
      {"coord":875018.6,"tail":0.148,"tip":0.271,"group":"orange"},
      {"coord":875018.6,"tail":0.024,"tip":0.155,"group":"brown"},
      {"coord":875007.2,"tail":0.234,"tip":0.351,"group":"blue"},
      {"coord":874841.3,"tail":-0.061,"tip":0.074,"group":"orange"},
      {"coord":874827.2,"tail":-0.048,"tip":0.070,"group":"brown"},
      {"coord":874834.8,"tail":0.004,"tip":0.122,"group":"blue"},
      {"coord":874509.7,"tail":0.003,"tip":0.142,"group":"orange"},
      {"coord":874519.0,"tail":0.083,"tip":0.208,"group":"brown"},
      {"coord":874512.8,"tail":0.142,"tip":0.258,"group":"blue"},
      {"coord":874350.7,"tail":-0.044,"tip":0.095,"group":"orange"},
      {"coord":874368.7,"tail":0.026,"tip":0.156,"group":"brown"},
      {"coord":874348.3,"tail":0.094,"tip":0.210,"group":"blue"},
      {"coord":874187.3,"tail":0.407,"tip":0.545,"group":"orange"},
      {"coord":874202.8,"tail":0.264,"tip":0.392,"group":"brown"},
      {"coord":874135.9,"tail":0.219,"tip":0.335,"group":"blue"},
      {"coord":873966.3,"tail":0.093,"tip":0.231,"group":"orange"},
      {"coord":874002.7,"tail":0.262,"tip":0.392,"group":"brown"},
      {"coord":873988.8,"tail":0.175,"tip":0.292,"group":"blue"},
      {"coord":873843.7,"tail":0.300,"tip":0.431,"group":"brown"},
      {"coord":873833.9,"tail":0.412,"tip":0.529,"group":"blue"}
    ],
    "labels": [
      {"coord":875230.6,"value":1.851,"label":"ADH2"},
      {"coord":875212.5,"value":0.083,"label":"-4"},
      {"coord":875056.0,"value":0.079,"label":"-3"},
      {"coord":874879.5,"value":0.080,"label":"-2"},
      {"coord":874681.8,"value":0.085,"label":"UAS"},
      {"coord":874554.1,"value":0.077,"label":"-1"},
      {"coord":874399.7,"value":0.059,"label":"+1"},
      {"coord":874304.4,"value":0.040,"label":"ATG"},
      {"coord":874146.4,"value":0.087,"label":"+2"},
      {"coord":874005.4,"value":0.085,"label":"+3"},
      {"coord":873858.0,"value":0.079,"label":"+4"}
    ],
    "nucleosomes": [
      {"coord":874514.3,"value":-0.057},
      {"coord":874393.1,"value":-0.057}
    ]
  },
  "layer": [
    {
      "data": {"name": "profile"},
      "mark": {"type": "line", "color": "#231f20", "strokeWidth": 2.2},
      "encoding": {
        "x": {
          "field": "coord", "type": "quantitative",
          "scale": {"domain": [873352, 875336], "reverse": true, "nice": false, "zero": false},
          "axis": {
            "orient": "bottom", "values": [875336, 874836, 874336, 873836], "format": "d",
            "ticks": false, "labelPadding": 52, "labelBaseline": "alphabetic",
            "labelFlush": false, "labelOverlap": false, "labelBound": false,
            "title": "Coordinates", "titleX": 813, "titleY": 102,
            "titleAlign": "center", "titleBaseline": "alphabetic"
          }
        },
        "y": {
          "field": "value", "type": "quantitative",
          "scale": {"domain": [-0.104, 2.0], "nice": false, "zero": false},
          "axis": {
            "orient": "left", "values": [0, 0.5, 1, 1.5, 2],
            "labelExpr": "datum.value === 0 ? '0' : format(datum.value, '.1f')",
            "ticks": false, "labelPadding": 25, "labelOverlap": false, "labelFlush": false,
            "title": "Periodicity index", "titleFontSize": 35, "titleX": -120, "titleY": 415,
            "titleAngle": 270, "titleAlign": "center", "titleBaseline": "alphabetic"
          }
        }
      }
    },
    {
      "data": {"name": "arrows"},
      "mark": {"type": "rule", "strokeWidth": 3, "y2Offset": 8},
      "encoding": {
        "x": {
          "field": "coord", "type": "quantitative",
          "scale": {"domain": [873352, 875336], "reverse": true, "nice": false, "zero": false},
          "axis": {"orient": "bottom", "values": [874836, 874336, 873836], "labels": false, "tickSize": -32, "title": null}
        },
        "y": {
          "field": "tail", "type": "quantitative",
          "scale": {"domain": [-0.104, 2.0], "nice": false, "zero": false},
          "axis": {"orient": "left", "values": [0, 0.5, 1, 1.5], "labels": false, "tickSize": -32, "title": null}
        },
        "y2": {"field": "tip"},
        "color": {
          "field": "group", "type": "nominal",
          "scale": {"domain": ["blue", "orange", "brown"], "range": ["#0a12f2", "#f7671d", "#754c24"]},
          "legend": null
        }
      }
    },
    {
      "data": {"name": "arrows"},
      "mark": {"type": "point", "shape": "M0,0L0.86,2L-0.86,2Z", "size": 484, "filled": true, "opacity": 1, "strokeWidth": 0},
      "encoding": {
        "x": {
          "field": "coord", "type": "quantitative",
          "scale": {"domain": [873352, 875336], "reverse": true, "nice": false, "zero": false},
          "axis": {"orient": "bottom", "values": [875086, 874586, 874086, 873586], "labels": false, "tickSize": -16, "title": null}
        },
        "y": {
          "field": "tip", "type": "quantitative",
          "scale": {"domain": [-0.104, 2.0], "nice": false, "zero": false},
          "axis": {"orient": "left", "values": [0.25, 0.75, 1.25, 1.75], "labels": false, "tickSize": -16, "title": null}
        },
        "color": {
          "field": "group", "type": "nominal",
          "scale": {"domain": ["blue", "orange", "brown"], "range": ["#0a12f2", "#f7671d", "#754c24"]},
          "legend": null
        }
      }
    },
    {
      "data": {"name": "labels"},
      "mark": {"type": "text", "align": "center", "baseline": "middle", "fontSize": 29, "color": "#111111"},
      "encoding": {
        "x": {
          "field": "coord", "type": "quantitative",
          "scale": {"domain": [873352, 875336], "reverse": true, "nice": false, "zero": false},
          "axis": null
        },
        "y": {
          "field": "value", "type": "quantitative",
          "scale": {"domain": [-0.104, 2.0], "nice": false, "zero": false},
          "axis": {"orient": "right", "values": [0, 0.5, 1, 1.5], "labels": false, "tickSize": -32, "title": null}
        },
        "text": {"field": "label"}
      }
    },
    {
      "data": {"values": [{"coord": 873381.8, "value": -0.211, "label": "ChrXIII"}]},
      "mark": {"type": "text", "align": "center", "baseline": "middle", "fontSize": 30, "color": "#111111"},
      "encoding": {
        "x": {
          "field": "coord", "type": "quantitative",
          "scale": {"domain": [873352, 875336], "reverse": true, "nice": false, "zero": false},
          "axis": null
        },
        "y": {"field": "value", "type": "quantitative", "scale": {"domain": [-0.104, 2.0], "nice": false, "zero": false}, "axis": null},
        "text": {"field": "label"}
      }
    },
    {
      "data": {"name": "nucleosomes"},
      "mark": {"type": "point", "shape": "M-1,0A1,0.895,0,1,1,1,0A1,0.895,0,1,1,-1,0Z", "size": 1444, "filled": true, "opacity": 1, "color": "#3b55a3", "strokeWidth": 0},
      "encoding": {
        "x": {
          "field": "coord", "type": "quantitative",
          "scale": {"domain": [873352, 875336], "reverse": true, "nice": false, "zero": false},
          "axis": null
        },
        "y": {
          "field": "value", "type": "quantitative",
          "scale": {"domain": [-0.104, 2.0], "nice": false, "zero": false},
          "axis": {"orient": "right", "values": [0.25, 0.75, 1.25, 1.75], "labels": false, "tickSize": -16, "title": null}
        }
      }
    },
    {
      "data": {"values": [{"coord": 874335, "bottom": -0.104, "top": -0.009}]},
      "mark": {"type": "rule", "strokeWidth": 6, "color": "#111111"},
      "encoding": {
        "x": {
          "field": "coord", "type": "quantitative",
          "scale": {"domain": [873352, 875336], "reverse": true, "nice": false, "zero": false},
          "axis": null
        },
        "y": {"field": "bottom", "type": "quantitative", "scale": {"domain": [-0.104, 2.0], "nice": false, "zero": false}, "axis": null},
        "y2": {"field": "top"}
      }
    },
    {
      "data": {"values": [{"start": 2670, "end": 2820, "value": 1.912}]},
      "mark": {"type": "rule", "strokeWidth": 7, "color": "#111111"},
      "encoding": {
        "x": {"field": "start", "type": "quantitative", "scale": {"domain": [0, 2877], "nice": false, "zero": false}, "axis": null},
        "x2": {"field": "end"},
        "y": {"field": "value", "type": "quantitative", "scale": {"domain": [-0.104, 2.0], "nice": false, "zero": false}, "axis": null}
      }
    },
    {
      "data": {"values": [{"bp": 2747, "value": 1.832, "label": "150 bp"}]},
      "mark": {"type": "text", "align": "center", "baseline": "middle", "fontSize": 29, "color": "#111111"},
      "encoding": {
        "x": {"field": "bp", "type": "quantitative", "scale": {"domain": [0, 2877], "nice": false, "zero": false}, "axis": null},
        "y": {"field": "value", "type": "quantitative", "scale": {"domain": [-0.104, 2.0], "nice": false, "zero": false}, "axis": null},
        "text": {"field": "label"}
      }
    }
  ]
}
